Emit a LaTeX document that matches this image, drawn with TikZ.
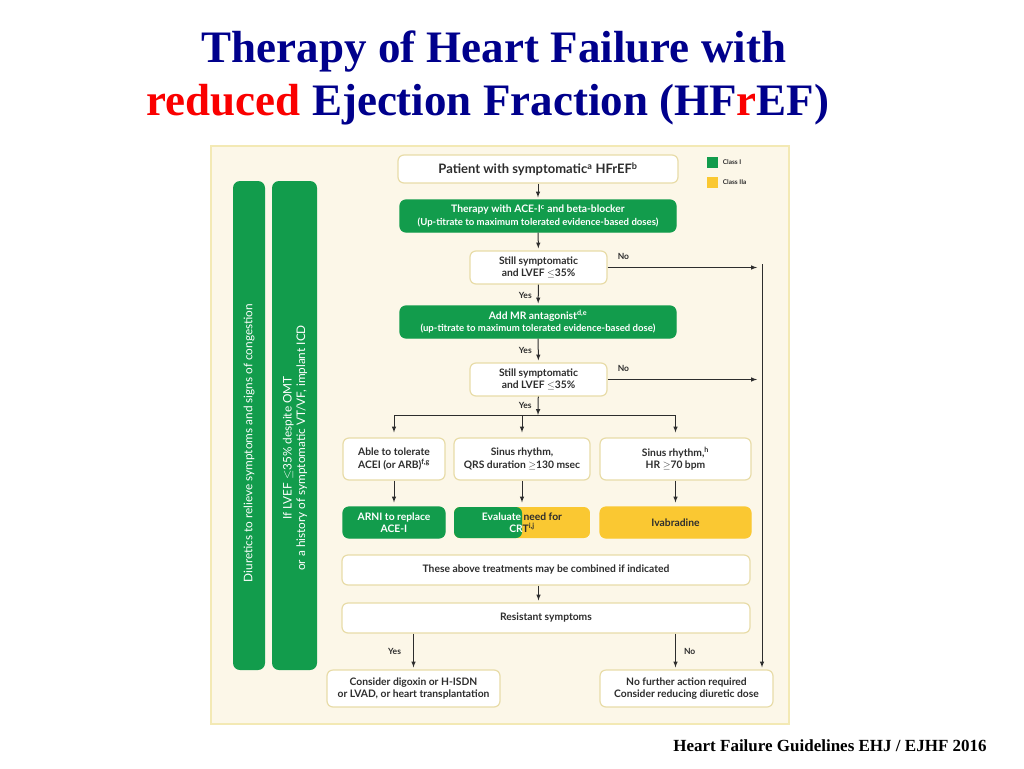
\documentclass[tikz,border=0pt]{standalone}
\usepackage{fontspec}
\setmainfont{Lato}
\newfontfamily\titlefont{Liberation Serif}
\usetikzlibrary{positioning,calc}
\definecolor{titleblue}{RGB}{0,0,140}
\definecolor{titlered}{RGB}{250,0,0}
\definecolor{classone}{RGB}{18,156,76}
\definecolor{classtwoa}{RGB}{250,200,50}
\definecolor{panelcream}{RGB}{252,247,232}
\definecolor{paneledge}{RGB}{243,233,180}
\definecolor{boxedge}{RGB}{232,220,168}
\definecolor{inktext}{RGB}{45,45,45}
\newcommand{\subline}{\fontsize{9.6}{12}\selectfont}

\begin{document}
\begin{tikzpicture}[x=1pt, y=-1pt,
  every node/.style={font=\fontsize{10.3}{12.5}\selectfont\bfseries, text=inktext},
  box/.style={draw=boxedge, line width=1.2pt, fill=white, rounded corners=6pt, align=center, inner sep=0pt},
  greenbox/.style={box, draw=classone, fill=classone, text=white},
  yellowbox/.style={box, draw=classtwoa, fill=classtwoa},
  bartext/.style={rotate=90, align=center, text=white, font=\fontsize{11.8}{13.5}\selectfont},
  flow/.style={->, >=latex, line width=1pt, draw=inktext, shorten >=2pt},
  lbl/.style={inner sep=0pt, font=\fontsize{8.5}{10}\selectfont\bfseries}]
  \useasboundingbox (0,0) rectangle (1024,768);
  \fill[white] (0,0) rectangle (1024,768);

  \node[font=\titlefont\fontsize{45}{52}\selectfont\bfseries, text=titleblue, anchor=base] (title1) at (494,63) {Therapy of Heart Failure with};
  \node[font=\titlefont\fontsize{45}{52}\selectfont\bfseries, text=titleblue, anchor=base] (title2) at (488,115) {\textcolor{titlered}{reduced} Ejection Fraction (HF\textcolor{titlered}{r}EF)};

  \draw[paneledge, fill=panelcream, line width=1.5pt] (211,146) rectangle (789,724);
  \fill[classone, rounded corners=7pt] (233,181) rectangle (265,670);
  \fill[classone, rounded corners=7pt] (272,181) rectangle (317,670);
  \node[bartext] (diuretictxt) at (249,443) {Diuretics to relieve symptoms and signs of congestion};
  \node[bartext] (icdtxt) at (295,448) {If LVEF $\leq$35\% despite OMT\\or a history of symptomatic VT/VF, implant ICD};

  \node[fill=classone, minimum size=11pt, inner sep=0pt] (keyone) at (712,162) {};
  \node[lbl, right=5pt of keyone, font=\fontsize{6.5}{7}\selectfont\bfseries] (keyonetxt) {Class I};
  \node[fill=classtwoa, minimum size=11pt, inner sep=0pt] (keytwo) at (712,182) {};
  \node[lbl, right=5pt of keytwo, font=\fontsize{6.5}{7}\selectfont\bfseries] (keytwotxt) {Class IIa};

  \node[box, minimum width=280pt, minimum height=28pt, font=\fontsize{13}{15}\selectfont\bfseries] (patient) at (538,169) {Patient with symptomatic\textsuperscript{a} HFrEF\textsuperscript{b}};
  \node[greenbox, minimum width=276pt, minimum height=32pt] (ace) at (538,216) {Therapy with ACE-I\textsuperscript{c} and beta-blocker\\\subline(Up-titrate to maximum tolerated evidence-based doses)};
  \node[box, minimum width=137pt, minimum height=33pt] (still1) at (538.5,267.5) {Still symptomatic\\and LVEF $\leq$35\%};
  \node[greenbox, minimum width=276pt, minimum height=32pt] (mra) at (538,322) {Add MR antagonist\textsuperscript{d,e}\\\subline(up-titrate to maximum tolerated evidence-based dose)};
  \node[box, minimum width=137pt, minimum height=33pt] (still2) at (538.5,379.5) {Still symptomatic\\and LVEF $\leq$35\%};

  \node[box, minimum width=102pt, minimum height=42pt] (tolerate) at (394,459) {Able to tolerate\\ACEI (or ARB)\textsuperscript{f,g}};
  \node[box, minimum width=136pt, minimum height=42pt] (sinusqrs) at (522,459) {Sinus rhythm,\\QRS duration $\geq$130 msec};
  \node[box, minimum width=151pt, minimum height=42pt] (sinushr) at (675.5,459) {Sinus rhythm,\textsuperscript{h}\\HR $\geq$70 bpm};

  \node[greenbox, minimum width=102pt, minimum height=31pt] (arni) at (394,522.5) {ARNI to replace\\ACE-I};
  \node[box, draw=none, minimum width=136pt, minimum height=31pt,
    path picture={\fill[classtwoa] (path picture bounding box.south west) rectangle (path picture bounding box.north east);
      \fill[classone] (path picture bounding box.south west) rectangle (path picture bounding box.north);}] (crt) at (522,522.5)
    {\textcolor{white}{Evaluate} need for\\\textcolor{white}{CR}T\textsuperscript{i,j}};
  \node[yellowbox, minimum width=151pt, minimum height=31pt] (ivab) at (675.5,522.5) {Ivabradine};

  \node[box, minimum width=408pt, minimum height=30pt] (combined) at (546,570) {These above treatments may be combined if indicated};
  \node[box, minimum width=408pt, minimum height=30pt] (resistant) at (546,618) {Resistant symptoms};
  \node[box, minimum width=173pt, minimum height=37pt] (digoxin) at (413.5,688.5) {Consider digoxin or H-ISDN\\or LVAD, or heart transplantation};
  \node[box, minimum width=173pt, minimum height=37pt] (nofurther) at (686.5,688.5) {No further action required\\Consider reducing diuretic dose};

  \coordinate (rail) at (762,264);
  \coordinate (split) at (538,415);

  \draw[flow] (patient) -- (ace);
  \draw[flow] (ace) -- (still1);
  \draw[flow] (still1) -- node[lbl, left=6pt] (yes1) {Yes} (mra);
  \draw[flow] (mra) -- node[lbl, left=6pt] (yes2) {Yes} (still2);
  \draw[flow, shorten >=0pt] (still2) -- node[lbl, left=6pt] (yes3) {Yes} (split);
  \draw[line width=1pt, inktext] (tolerate |- split) -- (sinushr |- split);
  \draw[flow, shorten >=5pt] (tolerate |- split) -- (tolerate);
  \draw[flow, shorten >=5pt] (sinusqrs |- split) -- (sinusqrs);
  \draw[flow, shorten >=5pt] (sinushr |- split) -- (sinushr);
  \draw[flow, shorten >=4pt] (tolerate) -- (arni);
  \draw[flow, shorten >=4pt] (sinusqrs) -- (crt);
  \draw[flow, shorten >=4pt] (sinushr) -- (ivab);
  \draw[flow] (combined.south -| still2) -- (resistant.north -| still2);
  \draw[flow] (resistant.south -| digoxin) -- node[lbl, left=12pt] (yes4) {Yes} (digoxin);
  \draw[flow] (resistant.south -| sinushr) -- node[lbl, right=8pt] (no3) {No} (nofurther.north -| sinushr);

  \draw[flow, shorten >=5pt] (still1) -- (still1 -| rail);
  \draw[flow, shorten >=5pt] (still2) -- (still2 -| rail);
  \node[lbl, above right=8pt and 10pt of still1.east] (no1) {No};
  \node[lbl, above right=8pt and 10pt of still2.east] (no2) {No};
  \draw[flow] (rail) -- (rail |- nofurther.north);

  \node[font=\titlefont\fontsize{17}{20}\selectfont\bfseries, text=black, anchor=base] (source) at (830,751) {Heart Failure Guidelines EHJ / EJHF 2016};
\end{tikzpicture}
\end{document}
